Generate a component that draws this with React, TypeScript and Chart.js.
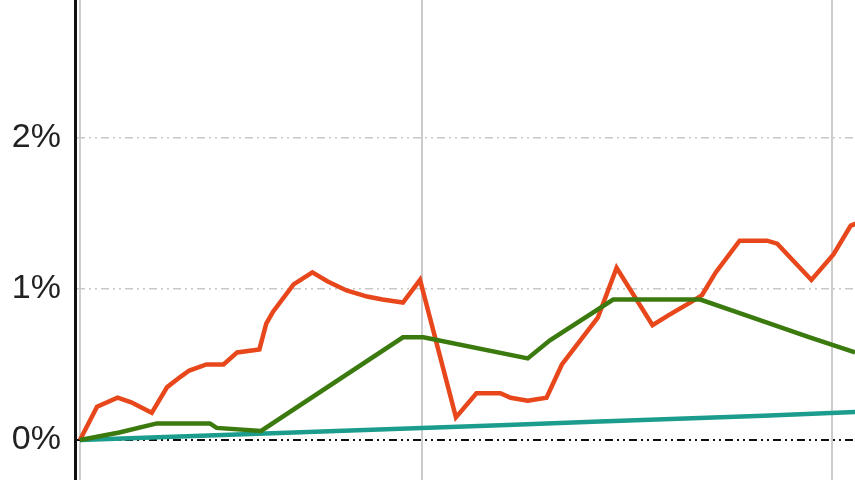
import { useEffect, useRef } from "react";
import { Chart, registerables } from "chart.js";

Chart.register(...registerables);

// Tick values
const yTicks = [0, 1, 2];
const xGridTicks = [0, 20, 44];

// Series: red
const redX = [0, 1.0, 2.2, 3.0, 4.2, 5.1, 5.9, 6.4, 7.4, 8.4, 9.2, 10.5, 10.9, 11.3, 12.5, 13.6, 14.5, 15.6, 16.8, 17.7, 18.9, 19.9, 22.0, 23.2, 24.6, 25.2, 26.2, 27.3, 28.2, 30.3, 31.4, 33.5, 34.5, 35.7, 36.4, 37.2, 38.6, 40.2, 40.8, 42.8, 44.1, 45.1, 46.3];
const redY = [0, 0.22, 0.28, 0.25, 0.18, 0.35, 0.42, 0.46, 0.50, 0.50, 0.58, 0.60, 0.77, 0.85, 1.03, 1.11, 1.05, 0.99, 0.95, 0.93, 0.91, 1.06, 0.15, 0.31, 0.31, 0.28, 0.26, 0.28, 0.50, 0.81, 1.14, 0.76, 0.83, 0.91, 0.96, 1.11, 1.32, 1.32, 1.30, 1.06, 1.23, 1.42, 1.47];

// Series: green
const greenX = [0, 2.3, 4.5, 7.6, 8.0, 10.6, 18.9, 20.1, 26.2, 27.5, 31.2, 36.3, 38.6, 42.7, 45.35, 46.5];
const greenY = [0, 0.05, 0.11, 0.11, 0.08, 0.06, 0.68, 0.68, 0.54, 0.66, 0.93, 0.93, 0.84, 0.68, 0.58, 0.54];

// Series: teal
const tealX = [0, 5, 10, 15, 20, 25, 30, 35, 40, 46.5];
const tealY = [0, 0.02, 0.04, 0.06, 0.08, 0.10, 0.12, 0.14, 0.16, 0.19];

const toPoints = (xs: number[], ys: number[]) => xs.map((x, i) => ({ x, y: ys[i] }));

export default function App() {
  const ref = useRef<HTMLCanvasElement>(null);

  useEffect(() => {
    if (!ref.current) return;
    const chart = new Chart(ref.current, {
      type: "line",
      data: {
        datasets: [
          {
            label: "green",
            data: toPoints(greenX, greenY),
            borderColor: "#3b7a0e",
            borderWidth: 4.5,
            pointRadius: 0,
            tension: 0,
          },
          {
            label: "red",
            data: toPoints(redX, redY),
            borderColor: "#e8471c",
            borderWidth: 4.5,
            pointRadius: 0,
            tension: 0,
          },
          {
            label: "teal",
            data: toPoints(tealX, tealY),
            borderColor: "#1c9c8c",
            borderWidth: 4.5,
            pointRadius: 0,
            tension: 0,
          },
        ],
      },
      options: {
        animation: false,
        responsive: false,
        maintainAspectRatio: false,
        events: [],
        layout: { padding: 0 },
        plugins: {
          legend: { display: false },
          tooltip: { enabled: false },
        },
        scales: {
          x: {
            type: "linear",
            min: -0.29,
            max: 45.35,
            afterBuildTicks: (s: any) => {
              s.ticks = xGridTicks.map((v) => ({ value: v }));
            },
            ticks: { display: false },
            grid: { color: "#cccccc", lineWidth: 2, drawTicks: false },
            border: { display: false },
            afterFit: (s: any) => {
              s.height = 0;
              s.paddingLeft = 0;
              s.paddingRight = 0;
              s.paddingTop = 0;
              s.paddingBottom = 0;
            },
          },
          y: {
            type: "linear",
            min: -0.265,
            max: 2.914,
            afterBuildTicks: (s: any) => {
              s.ticks = yTicks.map((v) => ({ value: v }));
            },
            ticks: {
              callback: (v: any) => v + "%",
              font: { family: "Liberation Sans", size: 34 },
              color: "#222222",
              padding: 14,
            },
            grid: {
              color: (ctx: any) => (ctx.tick && ctx.tick.value === 0 ? "#111111" : "#c8c8c8"),
              lineWidth: (ctx: any) => (ctx.tick && ctx.tick.value === 0 ? 2 : 1.5),
              drawTicks: false,
            },
            border: { display: true, color: "#111111", width: 3, dash: [8, 4, 2, 4, 2, 4] },
            afterFit: (s: any) => {
              s.width = 75;
              s.paddingTop = 0;
              s.paddingBottom = 0;
            },
          },
        },
      },
    });
    return () => chart.destroy();
  }, []);

  return (
    <canvas
      ref={ref}
      width={855}
      height={480}
      style={{ position: "fixed", left: 0, top: 0, display: "block", width: 855, height: 480 }}
    />
  );
}
